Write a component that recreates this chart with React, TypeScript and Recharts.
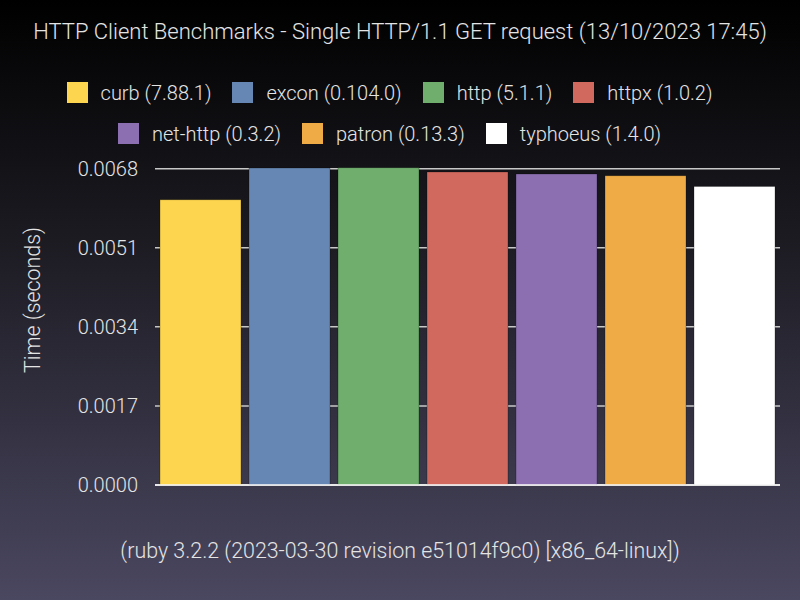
import React from "react";
import { BarChart, Bar, XAxis, YAxis, CartesianGrid, Legend } from "recharts";

const clients = ["curb", "excon", "http", "httpx", "net-http", "patron", "typhoeus"];
const versions = ["7.88.1", "0.104.0", "5.1.1", "1.0.2", "0.3.2", "0.13.3", "1.4.0"];
const times = [0.006133, 0.006815, 0.006822, 0.006729, 0.006686, 0.00665, 0.006419];
const COLORS = ["#fdd54e", "#6687b3", "#6fae6d", "#d2695e", "#8b6fb0", "#efab45", "#ffffff"];
const yTicks = [0, 0.0017, 0.0034, 0.0051, 0.0068];

const data = [
  clients.reduce<Record<string, number | string>>(
    (row, c, i) => {
      row[c] = times[i];
      return row;
    },
    { name: "" }
  ),
];

const FONT = "Roboto, 'Noto Sans', sans-serif";
const TEXT = "#e4e4e4";

function LegendItem({ i }: { i: number }) {
  return (
    <div style={{ display: "flex", alignItems: "center", marginRight: 21 }}>
      <span
        style={{
          display: "inline-block",
          width: 21,
          height: 21,
          background: COLORS[i],
          marginRight: 13,
        }}
      />
      <span>{`${clients[i]} (${versions[i]})`}</span>
    </div>
  );
}

function LegendContent() {
  const rows = [
    [0, 1, 2, 3],
    [4, 5, 6],
  ];
  return (
    <div style={{ fontFamily: FONT, fontWeight: 300, fontSize: 20, color: TEXT }}>
      {rows.map((r, k) => (
        <div
          key={k}
          style={{ display: "flex", justifyContent: "center", height: 41, alignItems: "center" }}
        >
          {r.map((i) => (
            <LegendItem key={i} i={i} />
          ))}
        </div>
      ))}
    </div>
  );
}

export default function App() {
  return (
    <div
      style={{
        position: "absolute",
        left: 0,
        top: 0,
        width: 800,
        height: 600,
        background: "linear-gradient(#000000 0%, #1c1b22 40%, #4a4760 100%)",
        fontFamily: FONT,
        overflow: "hidden",
      }}
    >
      <div
        style={{
          position: "absolute",
          top: 19,
          width: 800,
          textAlign: "center",
          color: TEXT,
          fontSize: 22,
          fontWeight: 300,
        }}
      >
        HTTP Client Benchmarks - Single HTTP/1.1 GET request (13/10/2023 17:45)
      </div>
      <div
        style={{
          position: "absolute",
          left: 32,
          top: 300,
          transform: "translate(-50%, -50%) rotate(-90deg)",
          color: TEXT,
          fontSize: 21.4,
          fontWeight: 300,
          whiteSpace: "nowrap",
        }}
      >
        Time (seconds)
      </div>
      <div
        style={{
          position: "absolute",
          top: 538,
          width: 800,
          textAlign: "center",
          color: TEXT,
          fontSize: 21.4,
          fontWeight: 300,
        }}
      >
        (ruby 3.2.2 (2023-03-30 revision e51014f9c0) [x86_64-linux])
      </div>
      <BarChart
        width={800}
        height={600}
        data={data}
        margin={{ top: 164, right: 20, bottom: 85, left: 0 }}
        barCategoryGap={5}
        barGap={8}
      >
        <CartesianGrid vertical={false} stroke="#c8c8c8" strokeWidth={1.5} syncWithTicks />
        <XAxis dataKey="name" tick={false} tickLine={false} axisLine={{ stroke: "#ffffff", strokeWidth: 1.5 }} height={30} />
        <YAxis
          width={155}
          domain={[0, 0.0069]}
          ticks={yTicks}
          tickFormatter={(v: number) => v.toFixed(4)}
          tickLine={false}
          axisLine={false}
          tickMargin={11}
          tick={{ fill: TEXT, fontSize: 20, fontFamily: FONT, fontWeight: 300 }}
        />
        <Legend
          layout="horizontal"
          verticalAlign="middle"
          align="center"
          wrapperStyle={{ top: 72, left: 0, width: 800 }}
          content={() => <LegendContent />}
        />
        {clients.map((c, i) => (
          <Bar
            key={c}
            dataKey={c}
            name={`${c} (${versions[i]})`}
            fill={COLORS[i]}
            stroke="rgba(0,0,0,0.25)"
            strokeWidth={1}
            isAnimationActive={false}
          />
        ))}
      </BarChart>
    </div>
  );
}
